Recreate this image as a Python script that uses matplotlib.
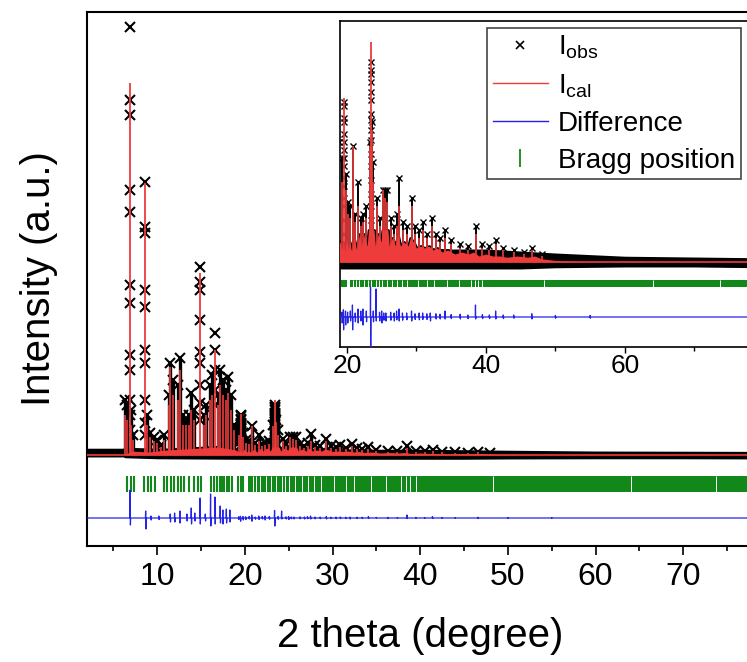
import numpy as np
import matplotlib
matplotlib.use('Agg')
import matplotlib.pyplot as plt
from matplotlib.lines import Line2D

plt.rcParams['font.family'] = ['Liberation Sans', 'DejaVu Sans']
plt.rcParams['mathtext.fontset'] = 'custom'
plt.rcParams['mathtext.rm'] = 'Liberation Sans'
plt.rcParams['mathtext.it'] = 'Liberation Sans'

RED = '#ee3b3b'
BLUE = '#2323e8'
GREEN = '#13881a'

# ---- data (intensity in a.u. above background) ----
# ordinary reflections: position, observed top, calculated top
peak_pos = [6.35, 6.55, 7.05, 7.3, 8.85, 9.2, 9.6, 9.95, 10.4, 10.8,
            11.3, 11.5, 11.8, 12.4, 12.6, 12.9, 13.3, 13.6, 13.9, 14.2,
            15.3, 15.6, 16.0, 16.3, 16.9, 17.2, 17.5, 17.8, 18.1, 18.4,
            18.8, 19.3, 19.8, 20.1, 20.5, 20.8, 21.2, 21.6, 22.0, 22.35,
            22.8, 23.25, 23.6, 23.8, 24.3, 24.7, 25.2, 25.5, 25.8, 26.3,
            26.8, 27.15, 27.5, 28.0, 28.6, 29.3, 29.8, 30.4, 30.9, 31.5,
            32.2, 32.8, 33.4, 34.1, 35.0, 36.3, 37.4, 38.5, 39.5, 40.5,
            41.4, 42.5, 44.0, 45.5, 46.6, 48.0]
peak_obs = [55, 50, 45, 20, 40, 22, 18, 15, 10, 20,
            60, 92, 75, 70, 97, 40, 35, 40, 62, 45,
            40, 50, 70, 80, 60, 85, 75, 65, 78, 60,
            30, 26, 22, 15, 14, 29, 12, 20, 11, 12,
            14, 30, 35, 25, 16, 11, 18, 18, 18, 11,
            9, 12, 21, 10, 9, 16, 9, 8, 10, 7,
            11, 7, 6, 8, 5.5, 4.5, 4, 9, 4.5, 4,
            5.5, 3.5, 3, 2.5, 3.5, 2]
peak_cal = [40, 35, 30, 15, 30, 18, 14, 12, 8, 15,
            50, 88, 60, 55, 85, 30, 30, 30, 45, 35,
            30, 40, 55, 60, 50, 70, 60, 55, 62, 45,
            25, 20, 18, 12, 11, 29, 10, 14, 9, 10,
            11, 29, 33, 20, 14, 9, 18, 16, 15, 9,
            7, 9, 14, 8, 7, 14, 7, 6, 8, 6,
            9, 6, 5, 6, 4.5, 3.5, 3, 7, 3.5, 3,
            4.5, 3, 2.5, 2, 3, 1.5]

# strong reflections: observed points along the flanks, calculated top
strong_pos = [6.9, 8.6, 14.9, 16.6, 19.57, 23.4]
strong_obs = [[428, 355, 340, 265, 243, 170, 152, 100, 85, 55, 40, 25],
              [273, 228, 222, 165, 148, 105, 92, 55, 32, 20],
              [188, 173, 165, 135, 103, 92, 70, 52, 35],
              [122, 105, 85, 65, 50],
              [40, 39, 36, 35, 32, 30, 28, 26, 24, 21, 19, 16, 14, 10.5, 7],
              [50, 48, 47, 45, 42.5, 40.5, 37, 35.5, 33, 30.5, 27, 24, 20.5,
               17, 14, 10.5, 7]]
strong_cal = [372, 272, 182, 105, 41, 55]

# spread of the observed background points
noise_x = [2, 6.2, 6.4, 10, 19, 25, 30, 35, 40, 45, 50, 60, 70, 80]
noise_lo = [3, 3, 0, -1, -1.5, -1.5, -1.5, -1.5, -1.5, -1.5, -1.2, -1, -1, -1.2]
noise_hi = [4, 4, 5, 4, 3.5, 3.5, 3.5, 3, 3, 2.5, 2, 1.2, 1, 0.8]

# calculated intensity from overlapping reflections between peaks
overlap_x = [2, 6.3, 7, 9, 11, 13, 15, 17, 19, 19.3, 19.45, 19.7, 19.9, 20.2,
             20.4, 20.7, 21.0, 21.4, 21.8, 22.1, 22.5, 22.9, 23.1, 23.9, 24.1,
             24.5, 24.9, 25.1, 25.9, 26.1, 26.5, 27.0, 27.3, 27.7, 28.2, 28.8,
             29.1, 29.6, 30.0, 30.6, 31.2, 31.8, 32.4, 33.0, 33.7, 34.5, 35.5,
             36.5, 37.5, 38.2, 39.0, 40.0, 41.0, 42.0, 43.0, 44.5, 46.0, 47.0,
             48.0, 50.0, 55.0, 80.0]
overlap_hi = [0, 0, 4, 3, 5, 6, 7, 8, 5, 3, 5, 2.5, 6, 3,
              5, 2.5, 6, 3, 7, 4, 7, 4, 8, 8, 4,
              7, 5, 8, 8, 4, 6, 4, 7, 4, 5, 4,
              6, 5, 3.5, 4, 3.5, 4, 3, 3.5, 2.5, 3, 2,
              2.5, 2, 2.5, 1.5, 2, 1.5, 1.5, 1.2, 1.5, 1.2, 1.5,
              0.8, 0.4, 0, 0]

# difference curve spikes: position, up, down
diff_pos = [6.93, 8.7, 9.3, 10.2, 11.5, 12.0, 12.6, 13.4, 13.9, 14.3,
            14.9, 15.5, 16.1, 16.6, 17.2, 17.5, 17.9, 18.3, 19.3, 19.5,
            19.8, 20.1, 20.5, 20.8, 21.2, 21.6, 22.0, 22.3, 22.8, 23.4,
            23.8, 24.2, 24.7, 25.0, 25.3, 25.6, 26.3, 26.8, 27.15, 27.5,
            28.0, 28.6, 29.3, 29.8, 30.4, 30.9, 31.5, 32.0, 32.8, 33.4,
            34.1, 35.0, 36.3, 37.4, 38.5, 39.5, 40.5, 41.4, 42.5, 44.0,
            46.6, 50.0, 55.0]
diff_up = [28, 7, 2, 2, 4, 5, 7, 4, 10, 5,
           20, 4, 24, 21, 12, 8, 9, 8, 1.2, 1.8,
           1.5, 1.2, 1.5, 3, 1, 2, 1.5, 2, 1.5, 7.5,
           1.5, 7, 1.2, 1.5, 1, 1, 1.2, 1, 1.5, 2,
           1, 1, 1.5, 0.8, 1, 1, 0.8, 1, 0.8, 0.7,
           1.5, 0.6, 0.7, 0.5, 3, 0.6, 0.5, 1.5, 0.5, 0.5,
           0.8, 0.4, 0.4]
diff_dn = [-7, -11, -2, -1.5, -4, -4, -5, -3, -6, -3,
           -6, -3, -8, -6, -5, -6, -5, -4, -1.5, -3.2,
           -2, -1.5, -1, -3.2, -1.2, -1.5, -1, -2, -1.2, -8,
           -1.2, -1, -1, -1.5, -0.8, -1, -0.8, -1, -0.7, -1,
           -0.8, -0.7, -1, -0.6, -0.7, -0.6, -0.6, -1, -0.5, -0.5,
           -0.5, -0.4, -0.5, -0.4, -0.5, -0.4, -0.4, -0.5, -0.4, -0.3,
           -0.5, -0.3, -0.3]

# Bragg positions
bragg_pos = [6.52, 6.97, 7.39, 8.54, 8.91, 9.30, 9.75, 10.78, 11.15, 11.57,
             11.95, 12.33, 12.67, 13.06, 13.66, 14.2, 14.7, 14.99, 16.1, 16.48,
             16.78, 17.17, 17.4, 17.6, 17.93, 18.23, 18.5, 19.26, 19.53, 19.83]
bragg_dense = (20.4, 80)
bragg_gaps = [20.9, 21.3, 21.7, 22.4, 23.0, 23.5, 24.2, 24.6, 25.0, 25.7,
              26.5, 27.2, 27.9, 28.7, 30.2, 31.5, 32.5, 34.4, 36.1, 37.8,
              38.4, 38.8, 39.5, 48.3, 64.0, 73.7]


def diff_curve(x0, x1):
    xs, ys = [x0], [0]
    for p, u, d in zip(diff_pos, diff_up, diff_dn):
        xs += [p - 0.04, p - 0.01, p + 0.02, p + 0.05]
        ys += [0, u, d, 0]
    xs.append(x1)
    ys.append(0)
    return np.array(xs), np.array(ys)


def draw_pattern(ax, col_lw, band_lw, rim_lw, ms, mew, bragg_y, diff_off, x0):
    # observed: noisy background band, black rim over the overlap region,
    # columns and crosses at the reflections
    ax.fill_between(noise_x, noise_lo, noise_hi, color='k', lw=band_lw,
                    edgecolor='k', zorder=2)
    ax.fill_between(overlap_x, 0, overlap_hi, color='k', lw=rim_lw,
                    edgecolor='k', zorder=2)
    ax.vlines(peak_pos, 0, peak_obs, color='k', lw=col_lw, zorder=2)
    ax.plot(peak_pos, peak_obs, ls='none', marker='x', color='k', ms=ms,
            mew=mew, zorder=2)
    for p, obs in zip(strong_pos, strong_obs):
        ax.plot([p] * len(obs), obs, ls='none', marker='x', color='k', ms=ms,
                mew=mew, zorder=2)
    # calculated
    ax.fill_between(overlap_x, 0, overlap_hi, color=RED, lw=0, zorder=3)
    ax.plot([x0, 80], [0, 0], color=RED, lw=1.2, zorder=3)
    ax.vlines(peak_pos, 0, peak_cal, color=RED, lw=1.2, zorder=3)
    ax.vlines(strong_pos, 0, strong_cal, color=RED, lw=1.3, zorder=3)
    # Bragg
    ax.vlines(bragg_pos, bragg_y[0], bragg_y[1], color=GREEN, lw=1.5, zorder=3)
    ax.fill_between(bragg_dense, bragg_y[0], bragg_y[1], color=GREEN, lw=0,
                    zorder=3)
    ax.vlines(bragg_gaps, bragg_y[0], bragg_y[1], color='white', lw=0.7,
              zorder=3)
    # difference
    dx, dy = diff_curve(x0, 80)
    ax.plot(dx, dy + diff_off, color=BLUE, lw=0.9, zorder=3)


fig = plt.figure(figsize=(7.47, 6.62), dpi=100)

# main axes
ax = fig.add_axes([87 / 747, 116 / 662, 684 / 747, 534 / 662])
draw_pattern(ax, 2.4, 4, 2.5, 7, 1.5, (-37, -21), -63, 2)
ax.set_xlim(2, 80)
ax.set_ylim(-91, 443)
ax.set_yticks([])
ax.set_xticks([10, 20, 30, 40, 50, 60, 70])
ax.set_xticks(np.arange(5, 80, 5), minor=True)
ax.tick_params(axis='x', which='major', direction='out', length=6.5, width=1.2,
               labelsize=23, pad=5)
ax.tick_params(axis='x', which='minor', direction='out', length=3.5, width=1.2)
for s in ax.spines.values():
    s.set_linewidth(1.5)
ax.set_xlabel('2 theta (degree)', fontsize=29)
ax.xaxis.set_label_coords(0.487, -0.133)
ax.set_ylabel('Intensity (a.u.)', fontsize=29)
ax.yaxis.set_label_coords(-0.043, 0.5)

# inset
ins = fig.add_axes([340 / 747, 315 / 662, 424 / 747, 326 / 662])
draw_pattern(ins, 1.4, 1.4, 2, 4.5, 1.0, (-6.25, -4.5), -13.75, 19)
ins.set_xlim(19, 80)
ins.set_ylim(-21.25, 60.25)
ins.set_yticks([])
ins.set_xticks([20, 40, 60])
ins.set_xticks([30, 50, 70], minor=True)
ins.tick_params(axis='x', which='major', direction='out', length=4, width=1.0,
                labelsize=19, pad=1)
ins.tick_params(axis='x', which='minor', direction='out', length=3, width=1.0)
for s in ins.spines.values():
    s.set_linewidth(1.2)

handles = [Line2D([], [], ls='none', marker='x', color='k', ms=6, mew=1.2),
           Line2D([], [], color=RED, lw=1.0),
           Line2D([], [], color=BLUE, lw=1.0),
           Line2D([], [], ls='none', marker='|', color=GREEN, ms=13, mew=1.3)]
labels = [r'I$_{\mathrm{obs}}$', r'I$_{\mathrm{cal}}$', 'Difference',
          'Bragg position']
leg = ins.legend(handles, labels, loc='upper left',
                 bbox_to_anchor=(487 / 747, 1 - 28 / 662),
                 bbox_transform=fig.transFigure, borderaxespad=0,
                 fontsize=20, handlelength=2.0, handletextpad=0.35,
                 labelspacing=0.4, borderpad=0.2, fancybox=False,
                 framealpha=1, edgecolor='#444444')
leg.get_frame().set_linewidth(1.2)

fig.savefig('out.png', dpi=100)
